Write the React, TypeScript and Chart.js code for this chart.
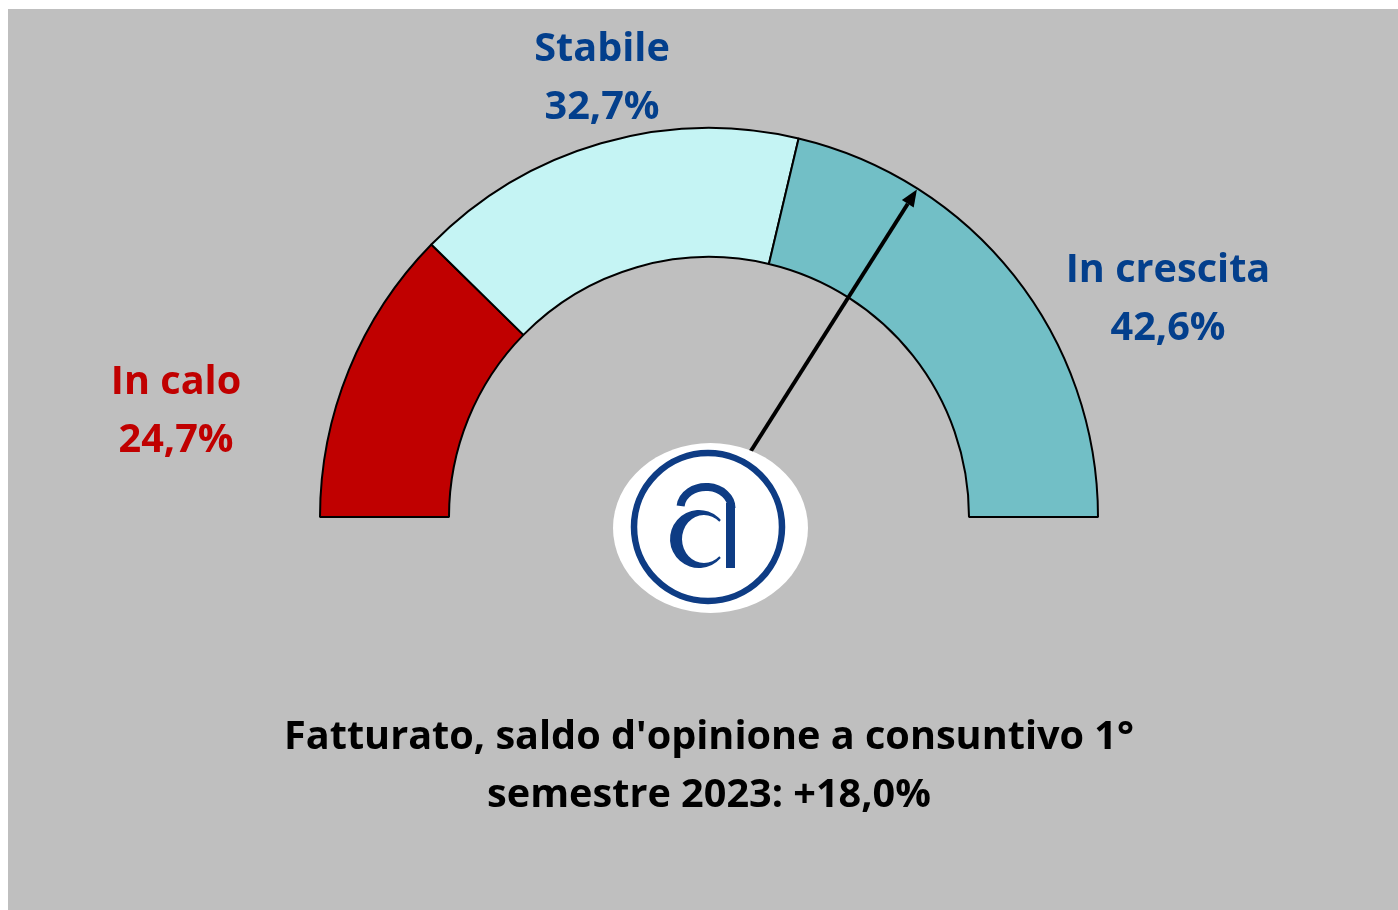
import React, { useEffect, useRef } from 'react';
import { Chart, registerables } from 'chart.js';

Chart.register(...registerables);

const categories = ['In calo', 'Stabile', 'In crescita'];
const shares = [24.7, 32.7, 42.6];
const segmentColors = ['#C00000', '#C5F4F4', '#72BFC6'];
const labelColors = ['#C00000', '#033F8C', '#033F8C'];
const needlePosition = 68.0; // percent of the gauge sweep, from the left end
const titleLines = ["Fatturato, saldo d'opinione a consuntivo 1°", 'semestre 2023: +18,0%'];

const FONT = '"Open Sans", sans-serif';
const fmt = (v: number) => v.toFixed(1).replace('.', ',') + '%';

// label anchors (canvas coords): centre x, first baseline
const labelAnchors = [
  { x: 168, y: 385 },
  { x: 594, y: 52 },
  { x: 1160, y: 273 },
];
const LINE_GAP = 58;
const TITLE_WIDTH = 850;

const gaugePlugin = {
  id: 'gaugeExtras',
  afterDatasetsDraw(chart: any) {
    const ctx: CanvasRenderingContext2D = chart.ctx;
    const arc = chart.getDatasetMeta(0).data[0];
    const cx = arc.x;
    const cy = arc.y;
    const R = arc.outerRadius;

    // needle
    const ang = Math.PI + (needlePosition / 100) * Math.PI;
    const tipR = R - 1;
    const tx = cx + Math.cos(ang) * tipR;
    const ty = cy + Math.sin(ang) * tipR;
    const headLen = 17;
    const headHalf = 7;
    const bx = cx + Math.cos(ang) * (tipR - headLen);
    const by = cy + Math.sin(ang) * (tipR - headLen);
    ctx.save();
    ctx.strokeStyle = '#000';
    ctx.lineWidth = 4;
    ctx.beginPath();
    ctx.moveTo(cx, cy);
    ctx.lineTo(bx, by);
    ctx.stroke();
    const px = -Math.sin(ang);
    const py = Math.cos(ang);
    ctx.fillStyle = '#000';
    ctx.beginPath();
    ctx.moveTo(tx, ty);
    ctx.lineTo(bx + px * headHalf, by + py * headHalf);
    ctx.lineTo(bx - px * headHalf, by - py * headHalf);
    ctx.closePath();
    ctx.fill();
    ctx.restore();

    // logo
    const lx = cx + 1.5;
    const ly = cy + 11;
    ctx.save();
    ctx.fillStyle = '#FFFFFF';
    ctx.beginPath();
    ctx.ellipse(lx, ly, 97.5, 85, 0, 0, Math.PI * 2);
    ctx.fill();
    const blue = '#0E3C84';
    ctx.strokeStyle = blue;
    ctx.lineWidth = 6.5;
    ctx.beginPath();
    ctx.arc(cx - 1, cy + 10, 74, 0, Math.PI * 2);
    ctx.stroke();
    // "c" bowl
    ctx.fillStyle = blue;
    const ccx = cx - 10;
    const ccy = cy + 22;
    ctx.beginPath();
    ctx.ellipse(ccx, ccy, 29, 29, 0, 0.72, Math.PI * 2 - 0.72, false);
    ctx.ellipse(ccx + 5, ccy, 22, 24, 0, Math.PI * 2 - 0.8, 0.8, true);
    ctx.closePath();
    ctx.fill();
    // stem
    ctx.fillRect(cx + 17, cy - 14, 9, 65);
    // arch
    ctx.strokeStyle = blue;
    ctx.lineWidth = 8;
    ctx.beginPath();
    ctx.ellipse(cx - 3, cy - 9, 25.5, 21, 0, Math.PI * 1.03, Math.PI * 2, false);
    ctx.stroke();
    ctx.restore();

    // labels
    ctx.save();
    ctx.textAlign = 'center';
    ctx.textBaseline = 'alphabetic';
    ctx.font = `bold 100px ${FONT}`;
    const w100 = ctx.measureText(titleLines[0]).width;
    const size = (100 * TITLE_WIDTH) / w100;
    ctx.font = `bold ${size.toFixed(2)}px ${FONT}`;
    categories.forEach((c, i) => {
      const a = labelAnchors[i];
      ctx.fillStyle = labelColors[i];
      ctx.fillText(c, a.x, a.y);
      ctx.fillText(fmt(shares[i]), a.x, a.y + LINE_GAP);
    });
    ctx.fillStyle = '#000';
    titleLines.forEach((t, i) => {
      ctx.fillText(t, 701, 740 + i * 58);
    });
    ctx.restore();
  },
};

export default function App() {
  const ref = useRef<HTMLCanvasElement>(null);
  useEffect(() => {
    if (!ref.current) return;
    const chart = new Chart(ref.current, {
      type: 'doughnut',
      data: {
        labels: categories,
        datasets: [
          {
            data: shares,
            backgroundColor: segmentColors,
            borderColor: '#000000',
            borderWidth: 2,
            radius: 389,
            cutout: '66.84%',
            circumference: 180,
            rotation: -90,
          } as any,
        ],
      },
      options: {
        responsive: false,
        animation: false,
        devicePixelRatio: 1,
        layout: { padding: { left: 12, right: 0, top: 0, bottom: 274 } },
        plugins: {
          legend: { display: false },
          tooltip: { enabled: false },
          title: { display: false },
        },
      },
      plugins: [gaugePlugin],
    });
    return () => chart.destroy();
  }, []);
  return (
    <div style={{ position: 'fixed', left: 8, top: 9, width: 1390, height: 901, background: '#BFBFBF' }}>
      <canvas ref={ref} width={1390} height={901} style={{ display: 'block' }} />
    </div>
  );
}
